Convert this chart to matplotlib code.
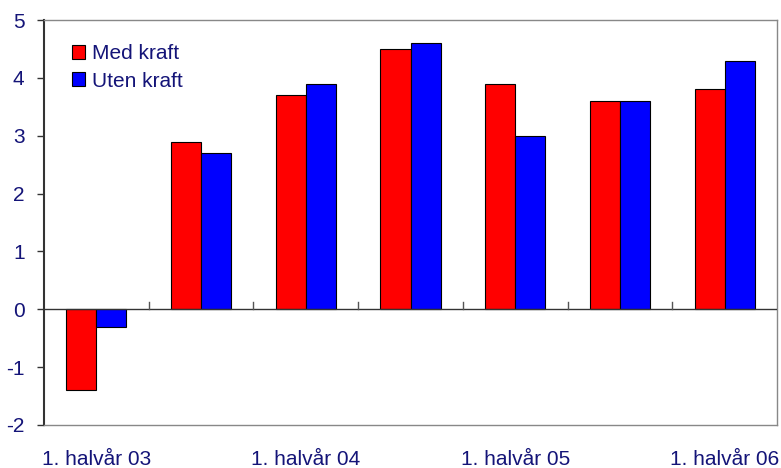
import matplotlib
matplotlib.use("Agg")
import matplotlib.pyplot as plt
import numpy as np

categories = ["1. halvår 03", "", "1. halvår 04", "", "1. halvår 05", "", "1. halvår 06"]
med_kraft = [-1.4, 2.9, 3.7, 4.5, 3.9, 3.6, 3.8]
uten_kraft = [-0.3, 2.7, 3.9, 4.6, 3.0, 3.6, 4.3]
yticks = [-2, -1, 0, 1, 2, 3, 4, 5]

plt.rcParams['font.family'] = ['Liberation Sans', 'DejaVu Sans']
navy = '#141478'
fs = 15

fig = plt.figure(figsize=(7.81, 4.68), dpi=100)
ax = fig.add_axes([44/781, 1-425/468, (777-44)/781, (425-20)/468])

x = np.arange(len(categories))
w = 0.287
ax.bar(x - w/2, med_kraft, w, color='#ff0000', edgecolor='black', linewidth=0.8, label='Med kraft', zorder=2)
ax.bar(x + w/2, uten_kraft, w, color='#0000ff', edgecolor='black', linewidth=0.8, label='Uten kraft', zorder=2)

ax.set_xlim(-0.5, len(categories) - 0.5)
ax.set_ylim(-2, 5)
ax.set_yticks(yticks)
ax.set_yticklabels([str(v) for v in yticks], color=navy, fontsize=fs)
ax.tick_params(axis='y', direction='out', length=5, width=1, pad=9, color='#333333')

ax.set_xticks([])
for i, lab in enumerate(categories):
    if lab:
        ax.text(i, -0.062, lab, transform=ax.get_xaxis_transform(), ha='center', va='top',
                color=navy, fontsize=fs)

# zero line and separator ticks
ax.axhline(0, color='#333333', linewidth=1, zorder=3)
for b in np.arange(0.5, len(categories) - 0.5, 1.0):
    ax.plot([b, b], [0, 0.12], color='#555555', linewidth=1, zorder=3)

for s in ['top', 'right', 'bottom']:
    ax.spines[s].set_color('#888888')
    ax.spines[s].set_linewidth(1)
ax.spines['left'].set_color('#333333')
ax.spines['left'].set_linewidth(1.5)

leg = ax.legend(loc='upper left', bbox_to_anchor=(0.038, 0.94), frameon=False, fontsize=fs,
                handlelength=0.65, handleheight=0.65, handletextpad=0.3, labelspacing=0.4,
                borderaxespad=0, borderpad=0)
for t in leg.get_texts():
    t.set_color(navy)

fig.savefig('out.png', dpi=100)
